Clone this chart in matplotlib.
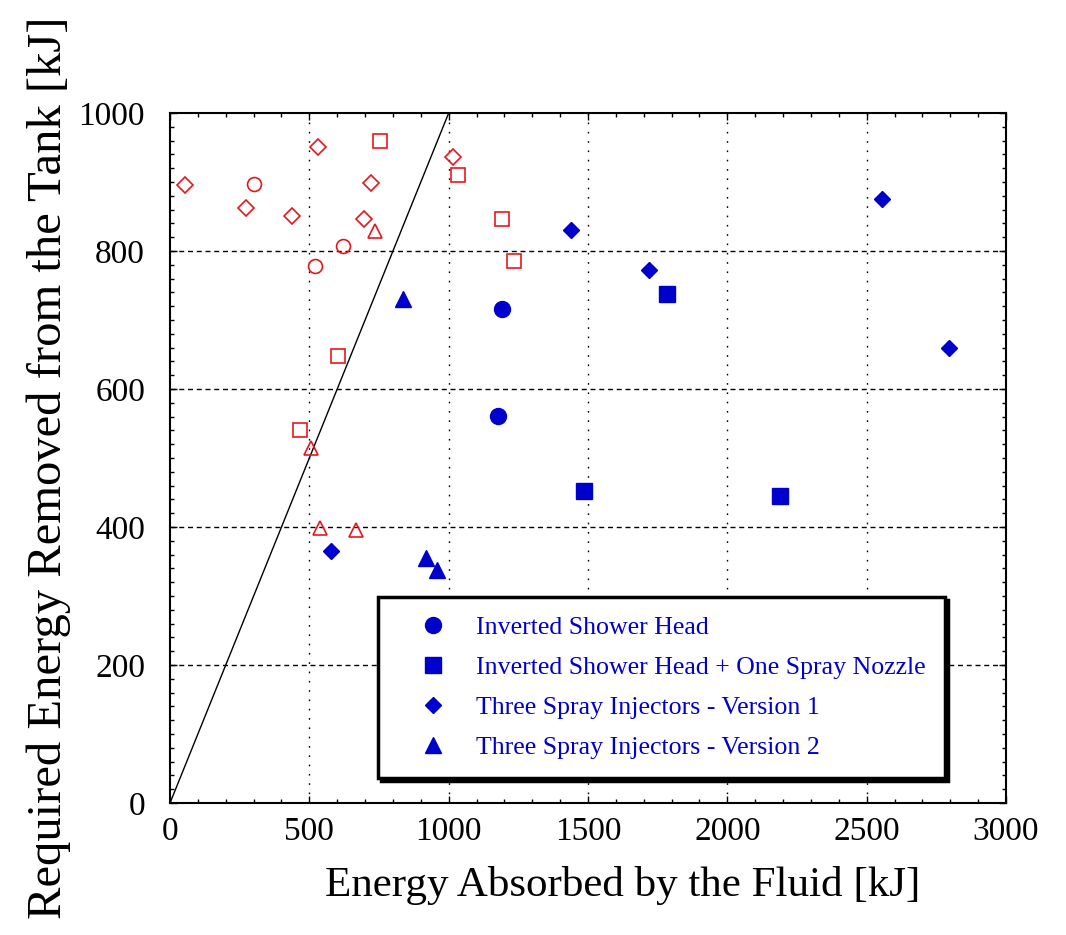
import matplotlib
matplotlib.use("Agg")
import matplotlib.pyplot as plt
from matplotlib.ticker import MultipleLocator

plt.rcParams['font.family'] = ['Liberation Serif', 'DejaVu Serif']

# Red open-marker series (no legend entry)
red_diamond_x = [54, 272, 438, 532, 695, 721, 1015]
red_diamond_y = [896, 863, 851, 951, 846, 899, 936]
red_circle_x = [303, 519, 621]
red_circle_y = [897, 779, 808]
red_square_x = [466, 602, 754, 1033, 1193, 1234]
red_square_y = [541, 648, 959, 910, 847, 786]
red_triangle_x = [507, 538, 667, 734]
red_triangle_y = [515, 398, 396, 829]

# Blue filled series (legend)
labels = ["Inverted Shower Head",
          "Inverted Shower Head + One Spray Nozzle",
          "Three Spray Injectors - Version 1",
          "Three Spray Injectors - Version 2"]
blue_circle_x = [1178, 1193]
blue_circle_y = [561, 716]
blue_square_x = [1484, 1783, 2188]
blue_square_y = [452, 738, 445]
blue_diamond_x = [578, 1440, 1719, 2554, 2795]
blue_diamond_y = [365, 831, 773, 876, 660]
blue_triangle_x = [835, 919, 958]
blue_triangle_y = [730, 355, 338]

line_x = [0, 1000]
line_y = [0, 1000]

xticks = [0, 500, 1000, 1500, 2000, 2500, 3000]
yticks = [0, 200, 400, 600, 800, 1000]

RED = '#e8161c'
BLUE = '#0000cc'

fig = plt.figure(figsize=(10.66, 9.35), dpi=100)
ax = fig.add_axes([0.1595, 0.1412, 0.7842, 0.7379])

# grid
for gx in xticks[1:-1]:
    ax.axvline(gx, color='black', lw=1.0, ls=(0, (1.2, 5.5)), zorder=1)
for gy in yticks[1:-1]:
    ax.axhline(gy, color='black', lw=1.0, ls=(0, (3.6, 2.7)), zorder=1)

ax.plot(line_x, line_y, color='black', lw=1.0, zorder=2)

ms_open = 10
ax.plot(red_diamond_x, red_diamond_y, ls='none', marker='D', ms=8.3, mfc='none', mec=RED, mew=1.2, zorder=3)
ax.plot(red_circle_x, red_circle_y, ls='none', marker='o', ms=ms_open, mfc='none', mec=RED, mew=1.2, zorder=3)
ax.plot(red_square_x, red_square_y, ls='none', marker='s', ms=ms_open, mfc='none', mec=RED, mew=1.2, zorder=3)
ax.plot(red_triangle_x, red_triangle_y, ls='none', marker='^', ms=ms_open, mfc='none', mec=RED, mew=1.2, zorder=3)

h1, = ax.plot(blue_circle_x, blue_circle_y, ls='none', marker='o', ms=11.5, color=BLUE, zorder=4)
h2, = ax.plot(blue_square_x, blue_square_y, ls='none', marker='s', ms=11.5, color=BLUE, zorder=4)
h3, = ax.plot(blue_diamond_x, blue_diamond_y, ls='none', marker='D', ms=8.5, color=BLUE, zorder=4)
h4, = ax.plot(blue_triangle_x, blue_triangle_y, ls='none', marker='^', ms=11, color=BLUE, zorder=4)

ax.set_xlim(0, 3000)
ax.set_ylim(0, 1000)
ax.set_xticks(xticks)
ax.set_yticks(yticks)
ax.xaxis.set_minor_locator(MultipleLocator(100))
ax.yaxis.set_minor_locator(MultipleLocator(20))
ax.tick_params(which='both', direction='in', top=True, right=True, width=1.0, colors='black')
ax.tick_params(which='major', length=5, labelsize=24, pad=10)
ax.tick_params(which='minor', length=3)
ax.tick_params(axis='y', which='major', pad=18)
for s in ax.spines.values():
    s.set_linewidth(1.5)
    s.set_color('black')

ax.set_xlabel("Energy Absorbed by the Fluid [kJ]", fontsize=31)
ax.xaxis.set_label_coords(0.542, -0.119)
ax.xaxis.label.set_va('center')
fig.text(0.046, 0.500, "Required Energy Removed from the Tank [kJ]", rotation=90,
         fontsize=35, ha='center', va='center')

leg = ax.legend([h1, h2, h3, h4], labels, loc='upper left', bbox_to_anchor=(0.249, 0.2986),
                fontsize=18.6, labelcolor=BLUE, frameon=True, fancybox=False,
                shadow={'color': 'black', 'alpha': 1},
                borderpad=0.75, labelspacing=0.65, handlelength=2.75, handletextpad=0.3,
                borderaxespad=0, markerscale=1.0)
leg.get_frame().set_edgecolor('black')
leg.get_frame().set_linewidth(2.5)
leg.get_frame().set_alpha(1)
leg.set_zorder(5)

fig.savefig("out.png", dpi=100)
